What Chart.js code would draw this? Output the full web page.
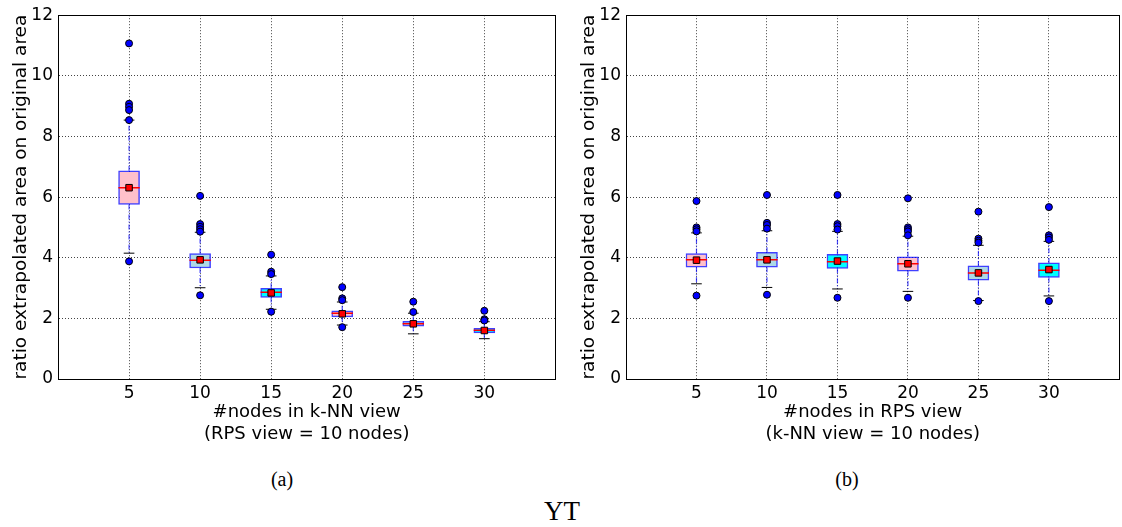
<!DOCTYPE html>
<html lang="en">
<head>
    <meta charset="UTF-8">
    <title>YT boxplots</title>
    <script src="https://cdn.jsdelivr.net/npm/chart.js"></script>
    <style>
        body {
            margin: 0;
            background: white;
            width: 1122px;
            height: 527px;
            position: relative;
            overflow: hidden;
        }
        .panel { position: absolute; top: 0; height: 445px; }
        #left { left: 0; width: 561px; }
        #right { left: 568px; width: 557px; }
        .caption {
            position: absolute;
            font-family: 'Liberation Serif', serif;
            color: #000;
            transform: translateX(-50%);
            white-space: nowrap;
        }
    </style>
</head>
<body>
    <div class="panel" id="left"><canvas id="chartA"></canvas></div>
    <div class="panel" id="right"><canvas id="chartB"></canvas></div>
    <div class="caption" style="left:282px; top:468px; font-size:20px;">(a)</div>
    <div class="caption" style="left:847px; top:468px; font-size:20px;">(b)</div>
    <div class="caption" style="left:562px; top:496px; font-size:27px;">YT</div>

    <script>
        // x positions of the boxes
        let nodes = [5, 10, 15, 20, 25, 30];
        let xTicks = [0, 5, 10, 15, 20, 25, 30, 35];
        let yTicks = [0, 2, 4, 6, 8, 10, 12];

        // (a) k-NN view varies
        let aQ1 = [5.76, 3.66, 2.69, 2.05, 1.74, 1.52];
        let aQ3 = [6.87, 4.14, 2.99, 2.25, 1.90, 1.67];
        let aMedian = [6.31, 3.92, 2.86, 2.17, 1.82, 1.61];
        let aMean = [6.31, 3.93, 2.84, 2.15, 1.82, 1.60];
        let aLow = [4.15, 3.01, 2.30, 1.78, 1.49, 1.33];
        let aHigh = [8.54, 4.84, 3.40, 2.54, 2.17, 1.89];
        let aOutliers = [
            [11.07, 9.08, 8.98, 8.87, 8.54, 3.88],
            [6.04, 5.11, 5.02, 4.94, 4.86, 2.76],
            [4.10, 3.54, 3.46, 2.22],
            [3.03, 2.66, 2.60, 1.71],
            [2.55, 2.21],
            [2.25, 1.97, 1.93]
        ];

        // (b) RPS view varies
        let bQ1 = [3.69, 3.69, 3.65, 3.56, 3.26, 3.35];
        let bQ3 = [4.14, 4.18, 4.11, 4.03, 3.73, 3.83];
        let bMedian = [3.93, 3.93, 3.87, 3.80, 3.50, 3.59];
        let bMean = [3.92, 3.93, 3.89, 3.80, 3.50, 3.61];
        let bLow = [3.14, 3.02, 2.97, 2.89, 2.59, 2.74];
        let bHigh = [4.82, 4.89, 4.87, 4.71, 4.41, 4.54];
        let bOutliers = [
            [5.87, 5.00, 4.94, 4.87, 2.75],
            [6.07, 5.15, 5.08, 4.96, 2.78],
            [6.07, 5.11, 5.04, 4.93, 2.68],
            [5.96, 5.00, 4.94, 4.87, 4.74, 2.68],
            [5.52, 4.63, 4.56, 4.50, 2.57],
            [5.67, 4.74, 4.67, 4.59, 2.57]
        ];

        let boxColors = ['#ffc0cb', '#add8e6', '#00ffff'];
        let boxHalf = 0.75;   // half box width in x units
        let capHalf = 0.375;

        Chart.defaults.font.family = 'DejaVu Sans';
        Chart.defaults.font.size = 17;
        Chart.defaults.color = '#000';

        // black frame around the plot area
        let framePlugin = {
            id: 'frame',
            afterDatasetsDraw(chart) {
                let a = chart.chartArea;
                let ctx = chart.ctx;
                ctx.save();
                ctx.strokeStyle = '#000';
                ctx.lineWidth = 1;
                ctx.strokeRect(Math.round(a.left) + 0.5, Math.round(a.top) + 0.5,
                    Math.round(a.right - a.left), Math.round(a.bottom - a.top));
                ctx.restore();
            }
        };

        function segments(pairs) {
            // pairs: [[x1,y1,x2,y2], ...] -> points separated by gaps
            let pts = [];
            pairs.forEach(p => {
                pts.push({ x: p[0], y: p[1] });
                pts.push({ x: p[2], y: p[3] });
                pts.push({ x: p[2], y: null });
            });
            return pts;
        }

        function makeChart(id, q1, q3, med, mean, low, high, outliers, xTitle, rightPad) {
            let whiskers = [], caps = [], medians = [], outPts = [], meanPts = [];
            nodes.forEach((x, i) => {
                whiskers.push([x, q3[i], x, high[i]]);
                whiskers.push([x, q1[i], x, low[i]]);
                caps.push([x - capHalf, high[i], x + capHalf, high[i]]);
                caps.push([x - capHalf, low[i], x + capHalf, low[i]]);
                medians.push([x - boxHalf, med[i], x + boxHalf, med[i]]);
                meanPts.push({ x: x, y: mean[i] });
                outliers[i].forEach(v => outPts.push({ x: x, y: v }));
            });

            return new Chart(document.getElementById(id), {
                type: 'bar',
                data: {
                    datasets: [
                        {
                            type: 'scatter',
                            data: outPts,
                            pointRadius: 3.5,
                            pointBackgroundColor: '#0000ff',
                            pointBorderColor: '#000',
                            pointBorderWidth: 1,
                            order: 0
                        },
                        {
                            type: 'scatter',
                            data: meanPts,
                            pointStyle: 'rect',
                            pointRadius: 4.6,
                            pointBackgroundColor: '#ff0000',
                            pointBorderColor: '#000',
                            pointBorderWidth: 1,
                            order: 1
                        },
                        {
                            type: 'line',
                            data: segments(medians),
                            borderColor: '#ff0000',
                            borderWidth: 1.5,
                            pointRadius: 0,
                            spanGaps: false,
                            order: 2
                        },
                        {
                            type: 'bar',
                            data: nodes.map((x, i) => ({ x: x, y: [q1[i], q3[i]] })),
                            backgroundColor: nodes.map((x, i) => boxColors[i % 3]),
                            borderColor: 'rgba(0, 0, 255, 0.75)',
                            borderWidth: 1.5,
                            borderSkipped: false,
                            barThickness: 21,
                            order: 3
                        },
                        {
                            type: 'line',
                            data: segments(caps),
                            borderColor: '#000',
                            borderWidth: 1,
                            pointRadius: 0,
                            spanGaps: false,
                            order: 4
                        },
                        {
                            type: 'line',
                            data: segments(whiskers),
                            borderColor: 'rgba(0, 0, 255, 0.7)',
                            borderWidth: 1.2,
                            borderDash: [5, 2, 1, 2],
                            pointRadius: 0,
                            spanGaps: false,
                            order: 5
                        }
                    ]
                },
                options: {
                    responsive: true,
                    maintainAspectRatio: false,
                    animation: false,
                    layout: { padding: { top: 15, right: rightPad, bottom: 0, left: 0 } },
                    plugins: {
                        legend: { display: false },
                        tooltip: { enabled: false }
                    },
                    scales: {
                        x: {
                            type: 'linear',
                            offset: false,
                            min: 0,
                            max: 35,
                            afterBuildTicks: s => { s.ticks = xTicks.map(v => ({ value: v })); },
                            afterFit: s => { s.height = 66; },
                            ticks: {
                                padding: 4,
                                callback: v => (v === 0 || v === 35) ? '' : v
                            },
                            grid: { color: '#444', lineWidth: 1, drawTicks: false, offset: false },
                            border: { display: true, color: '#000', dash: [1, 2] },
                            title: {
                                display: true,
                                text: xTitle,
                                font: { size: 18 },
                                lineHeight: 1.15,
                                padding: { top: 2, bottom: 0 }
                            }
                        },
                        y: {
                            min: 0,
                            max: 12,
                            afterBuildTicks: s => { s.ticks = yTicks.map(v => ({ value: v })); },
                            afterFit: s => { s.width = 58; },
                            ticks: { padding: 5 },
                            grid: { color: '#444', lineWidth: 1, drawTicks: false },
                            border: { display: true, color: '#000', dash: [1, 2] },
                            title: {
                                display: true,
                                text: 'ratio extrapolated area on original area',
                                font: { size: 18.5 },
                                padding: { top: 10, bottom: 0 }
                            }
                        }
                    }
                },
                plugins: [framePlugin]
            });
        }

        makeChart('chartA', aQ1, aQ3, aMedian, aMean, aLow, aHigh, aOutliers,
            ['#nodes in k-NN view', '(RPS view = 10 nodes)'], 5);
        makeChart('chartB', bQ1, bQ3, bMedian, bMean, bLow, bHigh, bOutliers,
            ['#nodes in RPS view', '(k-NN view = 10 nodes)'], 0);
    </script>
</body>
</html>
